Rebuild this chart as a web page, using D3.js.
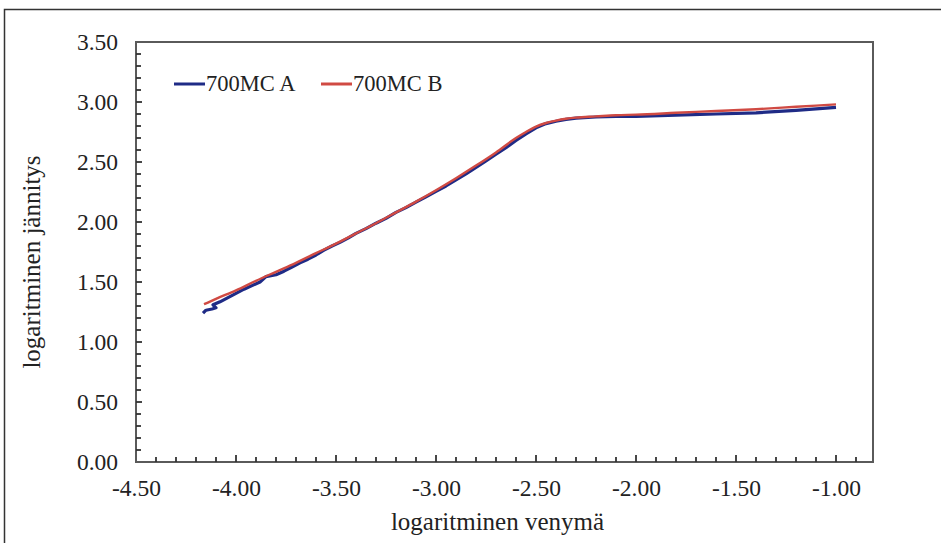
<!DOCTYPE html>
<html>
<head>
<meta charset="utf-8">
<script src="https://cdn.jsdelivr.net/npm/d3@7"></script>
<style>
  body { margin: 0; background: #fff; }
  svg { display: block; }
  .tick text { font-family: "Liberation Serif", "Times New Roman", serif; font-size: 23.5px; fill: #222; }
  .axis-title { font-family: "Liberation Serif", "Times New Roman", serif; font-size: 25px; fill: #222; }
  .legend text { font-family: "Liberation Serif", "Times New Roman", serif; font-size: 22.5px; fill: #222; }
</style>
</head>
<body>
<svg id="chart"></svg>
<script>
// values (log strain, log stress)
const seriesNames = ["700MC A", "700MC B"];
const seriesColors = ["#1f2b86", "#d04a43"];

const strainA = [-4.165, -4.150, -4.120, -4.100, -4.115, -4.080, -4.040, -4.000, -3.960, -3.920, -3.880, -3.850, -3.800, -3.760, -3.720, -3.680, -3.640, -3.600, -3.560, -3.520, -3.480, -3.440, -3.400, -3.350, -3.300, -3.250, -3.200, -3.150, -3.100, -3.050, -3.000, -2.950, -2.900, -2.850, -2.800, -2.750, -2.700, -2.650, -2.600, -2.550, -2.500, -2.450, -2.400, -2.350, -2.300, -2.200, -2.100, -2.000, -1.800, -1.600, -1.400, -1.200, -1.000];
const stressA = [1.240, 1.265, 1.275, 1.285, 1.310, 1.335, 1.370, 1.405, 1.440, 1.470, 1.500, 1.545, 1.560, 1.590, 1.625, 1.660, 1.690, 1.725, 1.765, 1.800, 1.830, 1.865, 1.905, 1.945, 1.990, 2.030, 2.080, 2.120, 2.165, 2.210, 2.255, 2.300, 2.350, 2.400, 2.455, 2.510, 2.565, 2.620, 2.680, 2.735, 2.785, 2.820, 2.840, 2.855, 2.865, 2.875, 2.880, 2.880, 2.890, 2.900, 2.910, 2.930, 2.955];

const strainB = [-4.160, -4.100, -4.000, -3.900, -3.800, -3.700, -3.600, -3.500, -3.400, -3.300, -3.200, -3.100, -3.000, -2.900, -2.800, -2.700, -2.600, -2.550, -2.500, -2.450, -2.400, -2.350, -2.300, -2.200, -2.100, -2.000, -1.800, -1.600, -1.400, -1.200, -1.000];
const stressB = [1.315, 1.360, 1.430, 1.510, 1.585, 1.660, 1.740, 1.820, 1.905, 1.990, 2.080, 2.170, 2.265, 2.365, 2.470, 2.580, 2.700, 2.750, 2.795, 2.825, 2.845, 2.860, 2.870, 2.880, 2.890, 2.895, 2.910, 2.925, 2.940, 2.960, 2.980];

const xTicks = [-4.5, -4.0, -3.5, -3.0, -2.5, -2.0, -1.5, -1.0];
const yTicks = [0, 0.5, 1.0, 1.5, 2.0, 2.5, 3.0, 3.5];

const W = 941, H = 543;
const margin = { top: 42, right: 68, bottom: 81, left: 136 };

const svg = d3.select('#chart').attr('width', W).attr('height', H);

// outer frame of the figure
svg.append('rect')
    .attr('x', 4.5).attr('y', 9.5)
    .attr('width', W).attr('height', H)
    .attr('fill', 'none')
    .attr('stroke', '#333')
    .attr('stroke-width', 1.5);

const width = W - margin.left - margin.right;
const height = H - margin.top - margin.bottom;

const chart = svg.append('g')
    .attr('transform', `translate(${margin.left},${margin.top})`);

const xScale = d3.scaleLinear().domain([-4.5, -0.815]).range([0, width]);
const yScale = d3.scaleLinear().domain([0, 3.5]).range([height, 0]);

const fmt = d => d.toFixed(2);

// minor ticks every 0.1, pointing inside
const xMinor = d3.range(1, 37).map(i => -4.5 + i * 0.1);
const yMinor = d3.range(1, 35).map(i => i * 0.1);

// plot border
chart.append('rect')
    .attr('x', 0).attr('y', 0)
    .attr('width', width).attr('height', height)
    .attr('fill', 'none')
    .attr('stroke', '#5a5a5a')
    .attr('stroke-width', 2);

chart.append('g')
    .attr('class', 'minor-x')
    .attr('transform', `translate(0,${height})`)
    .selectAll('line').data(xMinor).join('line')
    .attr('x1', d => xScale(d)).attr('x2', d => xScale(d))
    .attr('y1', 0).attr('y2', (d, i) => (i + 1) % 5 === 0 ? -7 : -5)
    .attr('stroke', '#333').attr('stroke-width', 1.8);

chart.append('g')
    .attr('class', 'minor-y')
    .selectAll('line').data(yMinor).join('line')
    .attr('y1', d => yScale(d)).attr('y2', d => yScale(d))
    .attr('x1', 0).attr('x2', (d, i) => (i + 1) % 5 === 0 ? 6 : 5)
    .attr('stroke', '#333').attr('stroke-width', 1.8);

const xAxis = d3.axisBottom(xScale).tickValues(xTicks).tickSize(0).tickPadding(17)
    .tickFormat(fmt);
const yAxis = d3.axisLeft(yScale).tickValues(yTicks).tickSize(0).tickPadding(18)
    .tickFormat(fmt);

chart.append('g')
    .attr('class', 'axis x-axis')
    .attr('transform', `translate(0,${height})`)
    .call(xAxis)
    .call(g => g.select('.domain').remove());

chart.append('g')
    .attr('class', 'axis y-axis')
    .call(yAxis)
    .call(g => g.select('.domain').remove());

const line = d3.line()
    .x(d => xScale(d[0]))
    .y(d => yScale(d[1]))
    .curve(d3.curveLinear);

const dataA = strainA.map((v, i) => [v, stressA[i]]);
const dataB = strainB.map((v, i) => [v, stressB[i]]);

chart.append('path')
    .datum(dataA)
    .attr('d', line)
    .attr('fill', 'none')
    .attr('stroke', seriesColors[0])
    .attr('stroke-width', 3.2)
    .attr('stroke-linejoin', 'round');

chart.append('path')
    .datum(dataB)
    .attr('d', d3.line().x(d => xScale(d[0])).y(d => yScale(d[1])).curve(d3.curveMonotoneX))
    .attr('fill', 'none')
    .attr('stroke', seriesColors[1])
    .attr('stroke-width', 2.4)
    .attr('stroke-linejoin', 'round');

// axis titles
chart.append('text')
    .attr('class', 'axis-title')
    .attr('x', width / 2 - 7)
    .attr('y', height + 68)
    .style('text-anchor', 'middle')
    .text('logaritminen venymä');

chart.append('text')
    .attr('class', 'axis-title')
    .attr('transform', 'rotate(-90)')
    .attr('x', -(height / 2) - 10)
    .attr('y', -96)
    .style('text-anchor', 'middle')
    .text('logaritminen jännitys');

// legend
const legend = svg.append('g').attr('class', 'legend');
const legendX = [174, 321];
seriesNames.forEach((name, i) => {
    const g = legend.append('g').attr('transform', `translate(${legendX[i]},84)`);
    g.append('line')
        .attr('x1', 0).attr('x2', 31)
        .attr('y1', 0).attr('y2', 0)
        .attr('stroke', seriesColors[i])
        .attr('stroke-width', 3);
    g.append('text')
        .attr('x', 32).attr('y', 7)
        .text(name);
});
</script>
</body>
</html>
